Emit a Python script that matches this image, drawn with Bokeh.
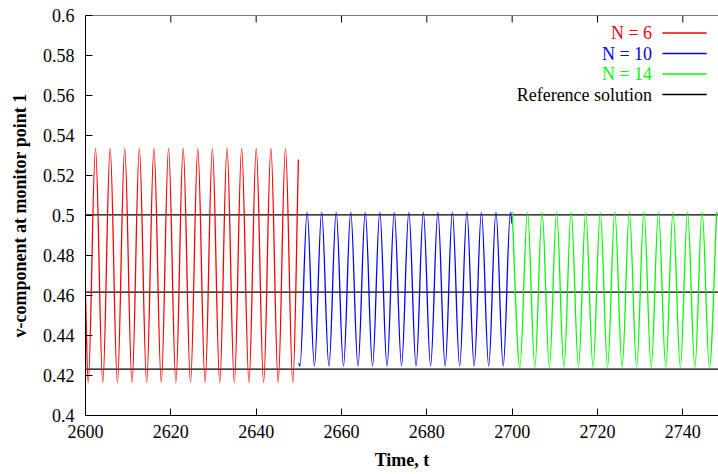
from bokeh.plotting import figure
from bokeh.models import FixedTicker, Range1d
from bokeh.core.properties import value
from bokeh.embed import file_html
from bokeh.resources import INLINE

# ---------------- data (extrema of each record) ----------------
red_t = [2600.00, 2600.63, 2602.34, 2604.05, 2605.77, 2607.48, 2609.19, 2610.91,
         2612.62, 2614.33, 2616.04, 2617.76, 2619.47, 2621.18, 2622.89, 2624.61,
         2626.32, 2628.03, 2629.74, 2631.46, 2633.17, 2634.88, 2636.60, 2638.31,
         2640.02, 2641.74, 2643.45, 2645.16, 2646.87, 2648.59, 2649.90]
red_v = [0.4600, 0.4165, 0.5335, 0.4165, 0.5335, 0.4165, 0.5335, 0.4165,
         0.5335, 0.4165, 0.5335, 0.4165, 0.5335, 0.4165, 0.5335, 0.4165,
         0.5335, 0.4165, 0.5335, 0.4165, 0.5335, 0.4165, 0.5335, 0.4165,
         0.5335, 0.4165, 0.5335, 0.4165, 0.5335, 0.4165, 0.5280]

blue_t = [2650.00, 2650.25, 2651.95, 2653.65, 2655.35, 2657.05, 2658.76, 2660.46,
          2662.16, 2663.86, 2665.57, 2667.27, 2668.97, 2670.67, 2672.37, 2674.07,
          2675.78, 2677.48, 2679.18, 2680.88, 2682.59, 2684.29, 2685.99, 2687.69,
          2689.39, 2691.09, 2692.80, 2694.50, 2696.20, 2697.90, 2699.61, 2699.95]
blue_v = [0.4262, 0.4247, 0.5017, 0.4247, 0.5017, 0.4247, 0.5017, 0.4247,
          0.5017, 0.4247, 0.5017, 0.4247, 0.5017, 0.4247, 0.5017, 0.4247,
          0.5017, 0.4247, 0.5017, 0.4247, 0.5017, 0.4247, 0.5017, 0.4247,
          0.5017, 0.4247, 0.5017, 0.4247, 0.5017, 0.4247, 0.5017, 0.4960]

green_t = [2700.00, 2701.80, 2703.60, 2705.31, 2707.01, 2708.72, 2710.42, 2712.13,
           2713.83, 2715.54, 2717.24, 2718.95, 2720.65, 2722.36, 2724.06, 2725.77,
           2727.47, 2729.18, 2730.88, 2732.59, 2734.29, 2736.00, 2737.70, 2739.41,
           2741.11, 2742.82, 2744.52, 2746.23, 2747.93]
green_v = [0.5017, 0.4242, 0.5017, 0.4242, 0.5017, 0.4242, 0.5017, 0.4242,
           0.5017, 0.4242, 0.5017, 0.4242, 0.5017, 0.4242, 0.5017, 0.4242,
           0.5017, 0.4242, 0.5017, 0.4242, 0.5017, 0.4242, 0.5017, 0.4242,
           0.5017, 0.4242, 0.5017, 0.4242, 0.5017]

ref_levels = [0.5003, 0.4617, 0.4232]

x_ticks = [2600, 2620, 2640, 2660, 2680, 2700, 2720, 2740]
x_tick_labels = ["2600", "2620", "2640", "2660", "2680", "2700", "2720", "2740"]
y_ticks = [0.4, 0.42, 0.44, 0.46, 0.48, 0.5, 0.52, 0.54, 0.56, 0.58, 0.6]
y_tick_labels = ["0.4", "0.42", "0.44", "0.46", "0.48", "0.5", "0.52", "0.54",
                 "0.56", "0.58", "0.6"]

legend_labels = ["N = 6", "N = 10", "N = 14", "Reference solution"]
legend_colors = ["#ff0000", "#0000ff", "#00ff00", "#000000"]

# ---------------- layout / styling ----------------
FONT = "Liberation Serif"
X_START, X_END = 2600, 2748.36
Y_START, Y_END = 0.4, 0.6
legend_y = [0.5912, 0.5810, 0.5708, 0.5605]
legend_text_x = 2732.8
legend_line_x0 = 2735.2
legend_line_x1 = 2745.6
TICK_LEN_Y = 7 * (Y_END - Y_START) / 400.0   # 7 px in data units (frame is 400 px tall)
LW = 1.3

p = figure(width=718, height=474, output_backend="svg", toolbar_location=None,
           x_range=Range1d(X_START, X_END), y_range=Range1d(Y_START, Y_END),
           min_border_left=85, min_border_right=0, min_border_top=15,
           min_border_bottom=59,
           x_axis_label="Time, t", y_axis_label="v-component at monitor point 1")
p.outline_line_color = None
p.xgrid.visible = False
p.ygrid.visible = False


def style_axis(ax):
    ax.major_tick_in = 7
    ax.major_tick_out = 0
    ax.minor_tick_in = 0
    ax.minor_tick_out = 0
    ax.axis_line_color = "black"
    ax.axis_line_width = 1
    ax.major_tick_line_color = "black"
    ax.major_tick_line_width = 1
    ax.major_label_text_font = FONT
    ax.major_label_text_font_size = "18px"
    ax.major_label_text_color = "black"
    ax.axis_label_text_font = FONT
    ax.axis_label_text_font_size = "18px"
    ax.axis_label_text_font_style = "bold"
    ax.axis_label_text_color = "black"


xa = p.xaxis[0]
style_axis(xa)
xa.ticker = FixedTicker(ticks=x_ticks)
xa.major_label_overrides = dict(zip(x_ticks, x_tick_labels))
xa.major_label_standoff = 9
xa.axis_label_standoff = 9

ya = p.yaxis[0]
style_axis(ya)
ya.ticker = FixedTicker(ticks=y_ticks)
ya.major_label_overrides = dict(zip(y_ticks, y_tick_labels))
ya.major_label_standoff = 11
ya.axis_label_standoff = 10

# top border line with inward ticks (no labels)
p.segment(x0=[X_START], x1=[X_END], y0=[Y_END], y1=[Y_END],
          line_color="black", line_width=1)
p.segment(x0=x_ticks, x1=x_ticks, y0=[Y_END] * len(x_ticks),
          y1=[Y_END - TICK_LEN_Y] * len(x_ticks), line_color="black", line_width=1)

# reference solution levels
n_ref = len(ref_levels)
p.segment(x0=[X_START] * n_ref, x1=[X_END] * n_ref, y0=ref_levels, y1=ref_levels,
          line_color="black", line_width=1.2)


def smooth_curve(ts, vs, color):
    """Draw a record through its read extrema with horizontal tangents at each extremum."""
    a = 0.364
    x0, y0, x1, y1, cx0, cy0, cx1, cy1 = [], [], [], [], [], [], [], []
    n = len(ts)
    for i in range(n - 1):
        ta, va, tb, vb = ts[i], vs[i], ts[i + 1], vs[i + 1]
        dt = tb - ta
        x0.append(ta); y0.append(va); x1.append(tb); y1.append(vb)
        if i == 0:
            cx0.append(ta + dt / 3.0); cy0.append(va + (vb - va) / 3.0)
        else:
            cx0.append(ta + a * dt); cy0.append(va)
        if i == n - 2:
            cx1.append(tb - dt / 3.0); cy1.append(vb - (vb - va) / 3.0)
        else:
            cx1.append(tb - a * dt); cy1.append(vb)
    p.bezier(x0=x0, y0=y0, x1=x1, y1=y1, cx0=cx0, cy0=cy0, cx1=cx1, cy1=cy1,
             line_color=color, line_width=LW)


smooth_curve(red_t, red_v, "#ff0000")
smooth_curve(blue_t, blue_v, "#0000ff")
smooth_curve(green_t, green_v, "#00ff00")

# legend (label on the left, sample line on the right)
p.text(x=[legend_text_x] * len(legend_labels), y=legend_y, text=legend_labels,
       text_color=legend_colors, text_align="right", text_baseline="middle",
       text_font=value(FONT), text_font_size="18px")
p.segment(x0=[legend_line_x0] * len(legend_labels),
          x1=[legend_line_x1] * len(legend_labels),
          y0=legend_y, y1=legend_y, line_color=legend_colors, line_width=1.5)

open("out.html", "w").write(file_html(p, INLINE))
